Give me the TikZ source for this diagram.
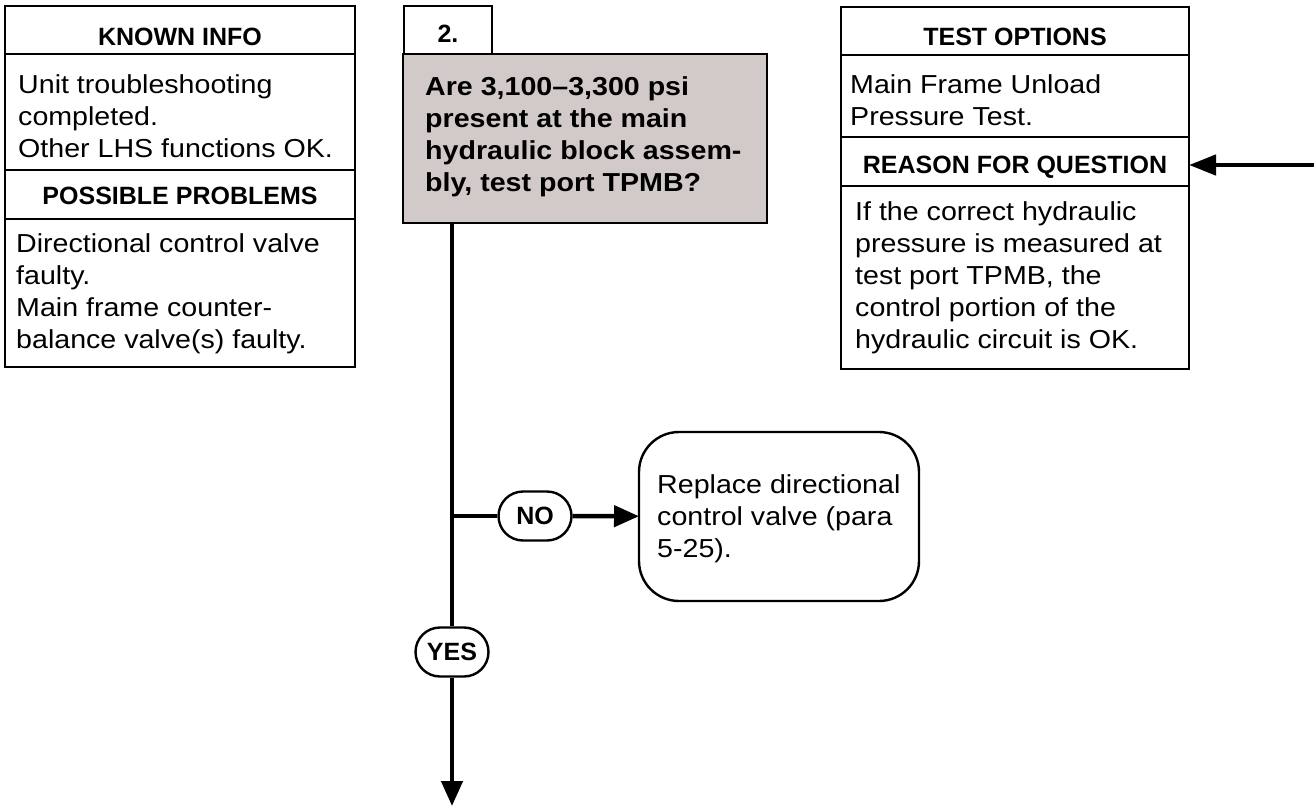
\documentclass[tikz,border=0pt]{standalone}
\usepackage{fontspec}
\setmainfont{Liberation Sans}
\newfontfamily\widefam[FakeStretch=1.10]{Liberation Sans}
\usetikzlibrary{positioning,calc}
\usetikzlibrary{arrows.meta,shapes.misc}
\definecolor{AskGray}{RGB}{209,202,200}
\newcommand\hdfont{\fontsize{25}{30}\selectfont\bfseries}
\newcommand\txfont{\widefam\fontsize{26}{32}\selectfont}
\tikzset{
  cell/.style={draw=black,line width=2.4pt,anchor=north west,inner sep=0pt,outer sep=0pt,font=\hdfont},
  txt/.style={font=\txfont,align=left,anchor=north west,inner sep=0pt},
  pill/.style={draw=black,fill=white,line width=2.4pt,rounded rectangle,minimum width=73pt,minimum height=49pt,inner sep=0pt,font=\hdfont},
  flow/.style={line width=4.5pt},
}
\tikzset{tip/.style={-{Triangle[length=25pt,width=21pt]}}}

\begin{document}
\begin{tikzpicture}[x=1pt,y=-1pt]
\path[use as bounding box](0,0)rectangle(1314,807);
% left column
\node[cell,minimum width=350pt,minimum height=48pt,text height=39pt,text depth=9pt](khead)at(5,6){KNOWN INFO};
\node[cell,minimum width=350pt,minimum height=116pt](kbody)at(khead.south west){};
\node[cell,minimum width=350pt,minimum height=49pt,text height=34pt,text depth=15pt](phead)at(kbody.south west){POSSIBLE PROBLEMS};
\node[cell,minimum width=350pt,minimum height=148pt](pbody)at(phead.south west){};
\node[txt](ktext)at(18,74.5){Unit troubleshooting\\completed.\\Other LHS functions OK.};
\node[txt](ptext)at(16,233.5){Directional control valve\\faulty.\\Main frame counter-\\balance valve(s) faulty.};
% question
\node[cell,minimum width=88pt,minimum height=48pt,text height=36pt,text depth=12pt](num)at(404,6){2.};
\node[cell,fill=AskGray,minimum width=364pt,minimum height=169pt](q)at(403,54){};
\node[txt,font=\txfont\bfseries](qtext)at(425,76.5){Are 3,100\textendash3,300 psi\\present at the main\\hydraulic block assem-\\bly, test port TPMB?};
% right column
\node[cell,minimum width=348pt,minimum height=48pt,text height=38pt,text depth=10pt](thead)at(841,7){TEST OPTIONS};
\node[cell,minimum width=348pt,minimum height=82pt](tbody)at(thead.south west){};
\node[cell,minimum width=348pt,minimum height=49pt,text height=36pt,text depth=13pt](rhead)at(tbody.south west){REASON FOR QUESTION};
\node[cell,minimum width=348pt,minimum height=183pt](rbody)at(rhead.south west){};
\node[txt](ttext)at(850,74.5){Main Frame Unload\\Pressure Test.};
\node[txt](rtext)at(855,201.5){If the correct hydraulic\\pressure is measured at\\test port TPMB, the\\control portion of the\\hydraulic circuit is OK.};
% answers
\node[pill](no)at(535,516){NO};
\node[pill](yes)at(452,652){YES};
\node[draw=black,line width=2.4pt,rounded corners=40pt,anchor=north west,minimum width=280pt,minimum height=169pt,inner sep=0pt,outer sep=0pt](fix)at(639,432){};
\node[txt](fixtext)at(657,474.5){Replace directional\\control valve (para\\5-25).};
% connectors
\coordinate(qfoot)at($(q.south west)+(49,0)$);
\coordinate(split)at(qfoot|-no);
\coordinate(out)at(452,806);
\coordinate(feed)at(1314,165);
\draw[flow](qfoot)--(yes);
\draw[flow,tip](yes)--(out);
\draw[flow](split)--(no);
\draw[flow,tip](no)--(fix);
\draw[flow,-{Triangle[length=27pt,width=20pt]}](feed)--(feed-|rhead.east);
\end{tikzpicture}
\end{document}
